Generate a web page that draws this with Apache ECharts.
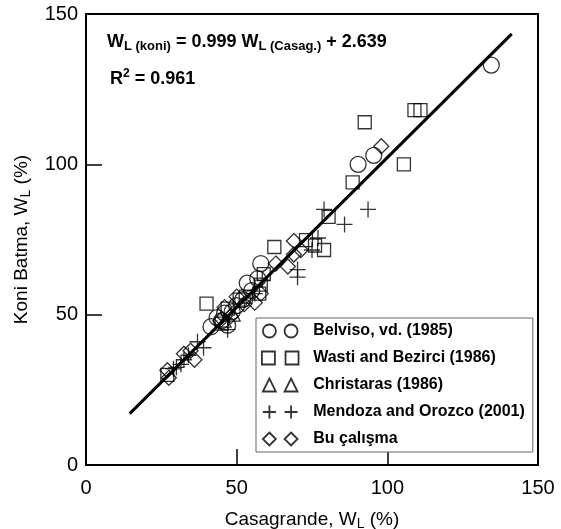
<!DOCTYPE html>
<html>
<head>
<meta charset="utf-8">
<script src="https://cdn.jsdelivr.net/npm/echarts@6/dist/echarts.min.js"></script>
<style>
html,body{margin:0;padding:0;background:#fff;}
#chart{width:561px;height:529px;}
</style>
</head>
<body>
<div id="chart"></div>
<script>
// ---- data ----
const xTicks = [0, 50, 100, 150];
const yTicks = [0, 50, 100, 150];

const seriesNames = ['Belviso, vd. (1985)', 'Wasti and Bezirci (1986)', 'Christaras (1986)', 'Mendoza and Orozco (2001)', 'Bu çalışma'];

const belviso = [[134.5,133],[90.3,100],[95.5,103],[58,67],[53.5,60.5],[57,62],[55,58],[43.5,49],[41.5,46],[45,48],[48.5,51],[52,55],[50,53],[47,46.5],[46,50.5]];
const wasti = [[109,118],[111,118],[92.5,114],[105.5,100],[88.5,94],[80.5,82.5],[62.5,72.5],[79,71.5],[73,74.8],[76,73],[40,53.7],[59,63.5],[58,60],[57.5,57],[47,52],[51,55],[27,30],[45,47],[53,56]];
const christaras = [[46,48],[49,50]];
const mendoza = [[93.6,85],[79,85],[85.8,80],[77,75.5],[75,71.5],[70.2,65],[70.2,62.5],[47,45],[39,39],[37,41],[31.5,33.5],[30,32.5],[29,32],[32.5,35],[34,36.5],[58.5,61.5],[56,57]];
const buCalisma = [[98,106],[69,74.5],[67,66],[71.3,71.5],[69,70],[58,57],[56,54],[50,56],[46,52.5],[34.7,38],[32.5,37],[36,35],[27,31.5],[27.5,29],[48,49.5],[52.5,53.5],[44.5,48],[63,67]];

const fitLine = [[14.5,17.1],[141.3,143.4]];

// ---- chart ----
const FONT = 'Liberation Sans, Arial, sans-serif';
const chart = echarts.init(document.getElementById('chart'), null, {renderer:'canvas'});

const icons = [
  'path://M6,0A6,6 0 1,1 6,12A6,6 0 1,1 6,0Z M26,0A6,6 0 1,1 26,12A6,6 0 1,1 26,0Z',
  'path://M0.5,0.5H11.5V11.5H0.5Z M20.5,0.5H31.5V11.5H20.5Z',
  'path://M6,0L12,12H0Z M26,0L32,12H20Z',
  'path://M6,0V12M0,6H12 M26,0V12M20,6H32',
  'path://M6,0L12,6L6,12L0,6Z M26,0L32,6L26,12L20,6Z'
];
const symbols = ['circle', 'rect', 'triangle', 'path://M8,0V16M0,8H16', 'diamond'];
const sizes = [16, 13, 13, 16, 15];
const datas = [belviso, wasti, christaras, mendoza, buCalisma];

const scatterSeries = seriesNames.map((n, i) => ({
  name: n,
  type: 'scatter',
  data: datas[i],
  symbol: symbols[i],
  symbolSize: sizes[i],
  itemStyle: {color: 'rgba(0,0,0,0)', borderColor: '#000', borderWidth: 1.3},
  z: 3
}));

const option = {
  animation: false,
  backgroundColor: '#fff',
  grid: {left: 86, right: 23, top: 14, bottom: 64, show: true, borderColor: '#000', borderWidth: 2,
    backgroundColor: 'transparent', containLabel: false, outerBoundsMode: 'none'},
  xAxis: {
    type: 'value', min: 0, max: 150, interval: 50,
    axisLine: {show: true, lineStyle: {color: '#000', width: 2}},
    axisTick: {show: true, inside: true, length: 16, lineStyle: {color: '#000', width: 1.5}},
    splitLine: {show: false},
    axisLabel: {color: '#000', fontSize: 20, fontFamily: FONT, margin: 13,
      formatter: v => xTicks.includes(v) ? String(v) : ''},
    name: 'Casagrande, W{sub|L} (%)',
    nameLocation: 'middle', nameGap: 44,
    nameTextStyle: {color: '#000', fontSize: 19, fontFamily: FONT, lineHeight: 22,
      rich: {sub: {fontSize: 14, fontFamily: FONT, color: '#000', verticalAlign: 'bottom', lineHeight: 14}}}
  },
  yAxis: {
    type: 'value', min: 0, max: 150, interval: 50,
    axisLine: {show: true, lineStyle: {color: '#000', width: 2}},
    axisTick: {show: true, inside: true, length: 16, lineStyle: {color: '#000', width: 1.5}},
    splitLine: {show: false},
    axisLabel: {color: '#000', fontSize: 20, fontFamily: FONT, margin: 8,
      formatter: v => yTicks.includes(v) ? String(v) : ''},
    name: 'Koni Batma, W{sub|L} (%)',
    nameLocation: 'middle', nameGap: 53,
    nameTextStyle: {color: '#000', fontSize: 19, fontFamily: FONT, lineHeight: 22,
      rich: {sub: {fontSize: 14, fontFamily: FONT, color: '#000', verticalAlign: 'bottom', lineHeight: 14}}}
  },
  legend: {
    orient: 'vertical',
    left: 256, top: 318,
    data: seriesNames.map((n, i) => ({name: n, icon: icons[i]})),
    itemWidth: 44, itemHeight: 13, itemGap: 7,
    padding: [3, 8, 3, 5],
    borderColor: '#666', borderWidth: 1, backgroundColor: '#fff',
    itemStyle: {color: 'rgba(0,0,0,0)', borderColor: '#000', borderWidth: 1.8},
    textStyle: {color: '#000', fontSize: 16, fontWeight: 'bold', fontFamily: FONT, lineHeight: 20, padding: [0,0,0,6]},
    selectedMode: false,
    z: 10
  },
  graphic: [
    {type: 'text', left: 107, top: 31, z: 20,
      style: {text: 'W{sub|L (koni)} = 0.999 W{sub|L (Casag.)} + 2.639',
        fill: '#000', font: 'bold 18px ' + FONT, lineHeight: 22,
        rich: {sub: {fontSize: 13, fontWeight: 'bold', fontFamily: FONT, fill: '#000', verticalAlign: 'bottom', lineHeight: 14}}}},
    {type: 'text', left: 110, top: 68, z: 20,
      style: {text: 'R{sup|2} = 0.961',
        fill: '#000', font: 'bold 18px ' + FONT, lineHeight: 22,
        rich: {sup: {fontSize: 12, fontWeight: 'bold', fontFamily: FONT, fill: '#000', verticalAlign: 'top', lineHeight: 12}}}}
  ],
  series: [
    {type: 'line', name: 'fit', data: fitLine, symbol: 'none', silent: true,
      lineStyle: {color: '#000', width: 3}, z: 4}
  ].concat(scatterSeries)
};
chart.setOption(option);
</script>
</body>
</html>
